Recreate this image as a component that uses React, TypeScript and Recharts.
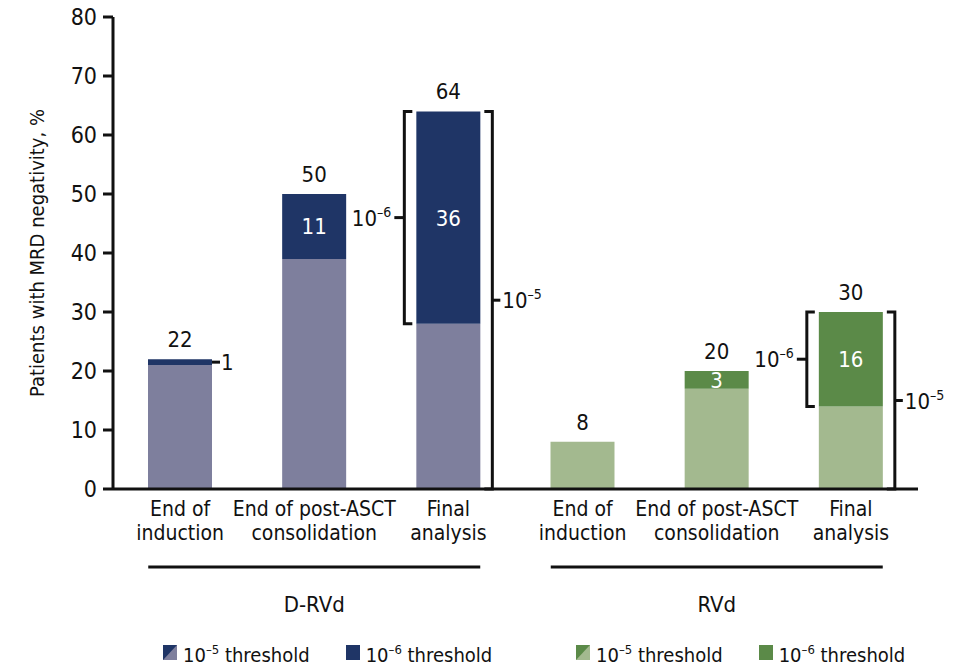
import React from "react";
import { BarChart, Bar, XAxis, YAxis, Cell, LabelList } from "recharts";

// categories (two-line tick labels split on "|")
const categories = [
  "End of|induction",
  "End of post-ASCT|consolidation",
  "Final|analysis",
  "End of|induction",
  "End of post-ASCT|consolidation",
  "Final|analysis",
];
const groups = ["D-RVd", "D-RVd", "D-RVd", "RVd", "RVd", "RVd"];
// MRD negative at 10^-5 only / also at 10^-6
const only5 = [21, 39, 28, 8, 17, 14];
const at6 = [1, 11, 36, 0, 3, 16];
const totals = [22, 50, 64, 8, 20, 30];
const bracketed = [false, false, true, false, false, true];
const yTicks = [0, 10, 20, 30, 40, 50, 60, 70, 80];
const groupNames = ["D-RVd", "RVd"];

const palette: Record<string, { light: string; dark: string }> = {
  "D-RVd": { light: "#7e7f9d", dark: "#1f3566" },
  RVd: { light: "#a3b98f", dark: "#5b8a48" },
};

const FONT = '"Liberation Sans Narrow", "Arial Narrow", "DejaVu Sans Condensed", sans-serif';

const data = categories.map((c, i) => ({
  key: `c${i}`,
  only5: only5[i],
  at6: at6[i],
}));

const Pow = ({ exp, x, y, anchor }: { exp: string; x: number; y: number; anchor: "start" | "end" }) => (
  <text x={x} y={y} textAnchor={anchor} fontSize={22} fill="#111" fontFamily={FONT}>
    10
    <tspan dy={-9} fontSize={14}>
      {"\u2013" + exp}
    </tspan>
  </text>
);

// labels drawn from the lower (10^-5 only) segment, which is never empty
const BarLabels = (props: any) => {
  const vb = props.viewBox ?? props;
  const x = vb.x ?? props.x;
  const y0 = vb.y ?? props.y;
  const width = vb.width ?? props.width;
  const h0 = vb.height ?? props.height;
  const i = props.index;
  const ppu = h0 / only5[i];
  const base = y0 + h0;
  const h6 = at6[i] * ppu;
  const y = y0 - h6;
  const cx = x + width / 2;
  const out: React.ReactNode[] = [];

  out.push(
    <text key="tot" x={cx} y={y - 12} textAnchor="middle" fontSize={22} fill="#111" fontFamily={FONT}>
      {totals[i]}
    </text>
  );

  if (at6[i] >= 2) {
    out.push(
      <text key="in" x={cx} y={y + h6 / 2 + 8} textAnchor="middle" fontSize={22} fill="#fff" fontFamily={FONT}>
        {at6[i]}
      </text>
    );
  } else if (at6[i] > 0) {
    const my = y + h6 / 2;
    out.push(
      <line key="dash" x1={x + width} x2={x + width + 8} y1={my} y2={my} stroke="#111" strokeWidth={3} />,
      <text key="out" x={x + width + 9} y={my + 8} fontSize={22} fill="#111" fontFamily={FONT}>
        {at6[i]}
      </text>
    );
  }

  if (bracketed[i]) {
    const L = x - 12;
    const R = x + width + 12;
    const mid6 = y + h6 / 2;
    const mid5 = (y + base) / 2;
    out.push(
      <path key="bl" d={`M${L + 8},${y} H${L} V${y0} H${L + 8}`} fill="none" stroke="#111" strokeWidth={3} />,
      <line key="tl" x1={L} x2={L - 10} y1={mid6} y2={mid6} stroke="#111" strokeWidth={3} />,
      <Pow key="pl" exp="6" x={L - 13} y={mid6 + 8} anchor="end" />,
      <path key="br" d={`M${R - 8},${y} H${R} V${base} H${R - 8}`} fill="none" stroke="#111" strokeWidth={3} />,
      <line key="tr" x1={R} x2={R + 8} y1={mid5} y2={mid5} stroke="#111" strokeWidth={3} />,
      <Pow key="pr" exp="5" x={R + 10} y={mid5 + 8} anchor="start" />
    );
  }
  return <g>{out}</g>;
};

const CategoryTick = (props: any) => {
  const { x, y, index } = props;
  const [l1, l2] = categories[index].split("|");
  const isMiddle = index % 3 === 1;
  return (
    <g>
      <text x={x} y={y + 27} textAnchor="middle" fontSize={21} fill="#111" fontFamily={FONT}>
        <tspan x={x}>{l1}</tspan>
        <tspan x={x} dy={24}>
          {l2}
        </tspan>
      </text>
      {isMiddle && (
        <>
          <line x1={x - 166} x2={x + 166} y1={y + 78} y2={y + 78} stroke="#111" strokeWidth={3} />
          <text x={x} y={y + 123} textAnchor="middle" fontSize={22} fill="#111" fontFamily={FONT}>
            {groups[index]}
          </text>
        </>
      )}
    </g>
  );
};

const YLabel = (props: any) => {
  const vb = props.viewBox;
  const cx = vb.x + 37;
  const cy = vb.y + vb.height / 2;
  return (
    <text
      x={cx}
      y={cy}
      transform={`rotate(-90 ${cx} ${cy})`}
      textAnchor="middle"
      dominantBaseline="central"
      fontSize={20}
      fill="#111"
      fontFamily={FONT}
    >
      Patients with MRD negativity, %
    </text>
  );
};

const Swatch = ({ light, dark, split }: { light: string; dark: string; split: boolean }) => (
  <svg width={14} height={15} style={{ marginRight: 6 }}>
    <rect x={0} y={0} width={14} height={15} fill={split ? light : dark} />
    {split && <polygon points="0,0 14,0 0,15" fill={dark} />}
  </svg>
);

const LegendGroup = ({ name, left }: { name: string; left: number }) => {
  const c = palette[name];
  return (
    <div style={{ position: "absolute", left, top: 638, display: "flex", alignItems: "center" }}>
      <Swatch light={c.light} dark={c.dark} split />
      <span style={{ marginRight: 36 }}>
        10<sup style={{ fontSize: 13 }}>{"\u2013"}5</sup> threshold
      </span>
      <Swatch light={c.light} dark={c.dark} split={false} />
      <span>
        10<sup style={{ fontSize: 13 }}>{"\u2013"}6</sup> threshold
      </span>
    </div>
  );
};

export default function App() {
  return (
    <div
      style={{
        position: "absolute",
        left: 0,
        top: 0,
        width: 971,
        height: 666,
        background: "#fff",
        fontFamily: FONT,
        fontSize: 20,
        color: "#111",
        lineHeight: "24px",
      }}
    >
      <BarChart
        width={971}
        height={666}
        data={data}
        margin={{ top: 17, right: 53, bottom: 0, left: 0 }}
      >
        <XAxis
          dataKey="key"
          height={177}
          tickLine={false}
          tickSize={0}
          tickMargin={0}
          axisLine={{ stroke: "#111", strokeWidth: 3 }}
          tick={<CategoryTick />}
          interval={0}
        />
        <YAxis
          width={113}
          domain={[0, 80]}
          ticks={yTicks}
          tickSize={10}
          tickMargin={6}
          axisLine={{ stroke: "#111", strokeWidth: 3 }}
          tickLine={{ stroke: "#111", strokeWidth: 3 }}
          tick={{ fontSize: 23, fill: "#111", fontFamily: FONT }}
          label={<YLabel />}
        />
        <Bar dataKey="only5" stackId="s" barSize={64} isAnimationActive={false}>
          {data.map((d, i) => (
            <Cell key={d.key} fill={palette[groups[i]].light} />
          ))}
          <LabelList dataKey="only5" content={<BarLabels />} />
        </Bar>
        <Bar dataKey="at6" stackId="s" barSize={64} isAnimationActive={false}>
          {data.map((d, i) => (
            <Cell key={d.key} fill={palette[groups[i]].dark} />
          ))}
        </Bar>
      </BarChart>
      <LegendGroup name={groupNames[0]} left={163} />
      <LegendGroup name={groupNames[1]} left={576} />
    </div>
  );
}
